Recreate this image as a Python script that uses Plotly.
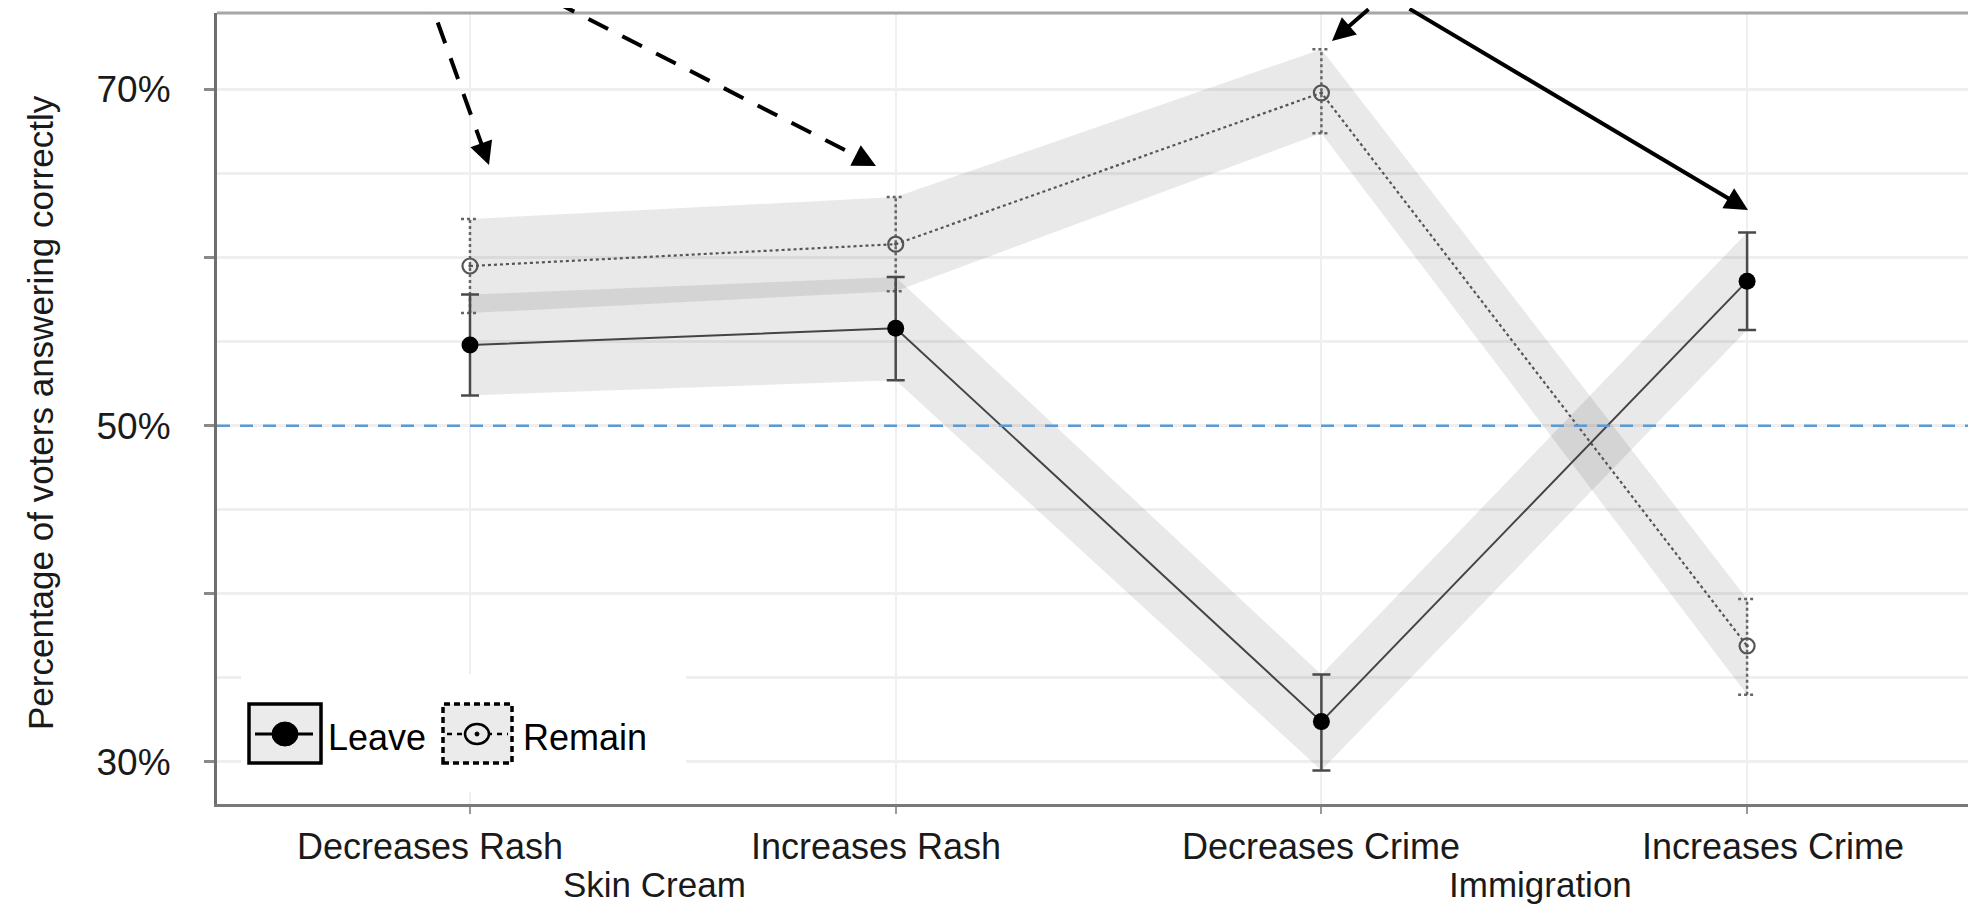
import math
import plotly.graph_objects as go

# ---------------- data ----------------
categories = ["Decreases Rash", "Increases Rash", "Decreases Crime", "Increases Crime"]
group_labels = ["Skin Cream", "Immigration"]
group_members = [[0, 1], [2, 3]]
series_names = ["Leave", "Remain"]

leave_pct = [54.8, 55.8, 32.4, 58.6]
leave_lo = [51.8, 52.7, 29.5, 55.7]
leave_hi = [57.8, 58.85, 35.2, 61.5]

remain_pct = [59.5, 60.8, 69.8, 36.9]
remain_lo = [56.7, 58.0, 67.4, 34.0]
remain_hi = [62.3, 63.6, 72.4, 39.7]

y_tick_vals = [30, 40, 50, 60, 70]
y_tick_text = ["30%", "", "50%", "", "70%"]
y_title = "Percentage of voters answering correctly"
chance_level = 50

# ---------------- layout geometry (page pixels) ----------------
PAGE_W, PAGE_H = 1976, 905
OFF = 8                      # default body margin of the html page
L, T, R, B = 217, 13, 1976, 804
PW, PH = R - L, B - T
X_RANGE = [0.4057, 4.5377]
Y_RANGE = [27.5, 74.55]


def px(x):
    return (x - L) / PW


def py(y):
    return (B - y) / PH


FONT = "Liberation Sans, Arial, sans-serif"
TXT = "#1a1a1a"
xs = list(range(1, len(categories) + 1))
cap_half = 9 / (PW / (X_RANGE[1] - X_RANGE[0]))

fig = go.Figure()

# ribbons (confidence bands)
RIB = "rgba(0,0,0,0.085)"
for lo, hi in [(leave_lo, leave_hi), (remain_lo, remain_hi)]:
    fig.add_trace(go.Scatter(
        x=xs + xs[::-1], y=hi + lo[::-1], fill="toself", fillcolor=RIB,
        mode="lines", line=dict(width=0), hoverinfo="skip", showlegend=False))

# lines
fig.add_trace(go.Scatter(x=xs, y=remain_pct, mode="lines", showlegend=False,
                         line=dict(color="#555555", width=2.2, dash="3px,3px")))
fig.add_trace(go.Scatter(x=xs, y=leave_pct, mode="lines", showlegend=False,
                         line=dict(color="#444444", width=2)))

# remain error bars (dotted)
ex, ey = [], []
for x, lo, hi in zip(xs, remain_lo, remain_hi):
    ex += [x, x, None, x - cap_half, x + cap_half, None, x - cap_half, x + cap_half, None]
    ey += [lo, hi, None, lo, lo, None, hi, hi, None]
fig.add_trace(go.Scatter(x=ex, y=ey, mode="lines", showlegend=False, hoverinfo="skip",
                         line=dict(color="#666666", width=2.5, dash="3px,3px")))

# leave markers + error bars
fig.add_trace(go.Scatter(
    x=xs, y=leave_pct, mode="markers", name=series_names[0], showlegend=False,
    marker=dict(symbol="circle", size=17, color="black"),
    error_y=dict(type="data", symmetric=False,
                 array=[h - p for h, p in zip(leave_hi, leave_pct)],
                 arrayminus=[p - l for p, l in zip(leave_pct, leave_lo)],
                 color="#4a4a4a", thickness=2.5, width=9)))

# remain markers
fig.add_trace(go.Scatter(
    x=xs, y=remain_pct, mode="markers", name=series_names[1], showlegend=False,
    marker=dict(symbol="circle-open-dot", size=15, color="#555555", line=dict(width=2.2))))

shapes = []
annotations = []

# top border
shapes.append(dict(type="line", xref="paper", yref="paper", x0=0, x1=1, y0=1, y1=1,
                   line=dict(color="#a6a6a6", width=3), layer="above"))
# chance line
shapes.append(dict(type="line", xref="paper", yref="y", x0=0, x1=1, y0=chance_level, y1=chance_level,
                   line=dict(color="#5b9bd5", width=2.5, dash="13px,10px"), layer="above"))

# ---------------- legend (drawn manually, ggplot style) ----------------
shapes.append(dict(type="rect", xref="paper", yref="paper", x0=px(241), x1=px(686), y0=py(792), y1=py(674),
                   fillcolor="white", line=dict(width=0), layer="above"))
# key 1
shapes.append(dict(type="rect", xref="paper", yref="paper", x0=px(249), x1=px(321), y0=py(763), y1=py(704),
                   fillcolor="#ebebeb", line=dict(color="black", width=3.5), layer="above"))
shapes.append(dict(type="line", xref="paper", yref="paper", x0=px(255), x1=px(313), y0=py(734), y1=py(734),
                   line=dict(color="black", width=3), layer="above"))
shapes.append(dict(type="circle", xref="paper", yref="paper", xsizemode="pixel", ysizemode="pixel",
                   xanchor=px(285), yanchor=py(734), x0=-13, x1=13, y0=-12, y1=12,
                   fillcolor="black", line=dict(color="black", width=1), layer="above"))
# key 2
shapes.append(dict(type="rect", xref="paper", yref="paper", x0=px(443), x1=px(512), y0=py(763), y1=py(704),
                   fillcolor="#ebebeb", line=dict(color="black", width=3.5, dash="6px,4px"), layer="above"))
shapes.append(dict(type="line", xref="paper", yref="paper", x0=px(447), x1=px(508), y0=py(734), y1=py(734),
                   line=dict(color="black", width=2.5, dash="5px,5px"), layer="above"))
shapes.append(dict(type="circle", xref="paper", yref="paper", xsizemode="pixel", ysizemode="pixel",
                   xanchor=px(477), yanchor=py(734), x0=-12, x1=12, y0=-10, y1=10,
                   fillcolor="#ebebeb", line=dict(color="black", width=2.5), layer="above"))
shapes.append(dict(type="circle", xref="paper", yref="paper", xsizemode="pixel", ysizemode="pixel",
                   xanchor=px(477), yanchor=py(734), x0=-2, x1=2, y0=-2, y1=2,
                   fillcolor="black", line=dict(color="black", width=1), layer="above"))
for name, xpix in zip(series_names, [326, 521]):
    annotations.append(dict(text=name, x=px(xpix), y=py(737), xref="paper", yref="paper",
                            xanchor="left", yanchor="middle", showarrow=False,
                            font=dict(family=FONT, size=36, color="black")))

# ---------------- arrows ----------------
arrows = [  # (tail_x, tail_y, tip_x, tip_y, dashed)
    (412, -49, 489, 165, True),
    (487, -33, 876, 166, True),
    (1370, -41, 1332, 41, False),
    (1408, -42, 1748, 210, False),
]
for tx, ty, hx, hy, dashed in arrows:
    dx, dy = hx - tx, hy - ty
    n = math.hypot(dx, dy)
    ux, uy = dx / n, dy / n
    if dashed:
        shapes.append(dict(type="line", xref="paper", yref="paper",
                           x0=px(tx), y0=py(ty), x1=px(hx - ux * 16), y1=py(hy - uy * 16),
                           line=dict(color="black", width=4, dash="22px,16px"), layer="above"))
        annotations.append(dict(x=px(hx), y=py(hy), xref="paper", yref="paper",
                                ax=-ux * 18, ay=-uy * 18, showarrow=True, text="",
                                arrowhead=2, arrowwidth=4, arrowsize=1.15, arrowcolor="black"))
    else:
        annotations.append(dict(x=px(hx), y=py(hy), xref="paper", yref="paper",
                                ax=tx - hx, ay=ty - hy, showarrow=True, text="",
                                arrowhead=2, arrowwidth=4, arrowsize=1.15, arrowcolor="black"))

# ---------------- axis text ----------------
cat_shift = [-40, -20, 0, 26]
for x, lab, sh in zip(xs, categories, cat_shift):
    annotations.append(dict(text=lab, x=x, xref="x", xshift=sh, y=py(846), yref="paper",
                            xanchor="center", yanchor="middle", showarrow=False,
                            font=dict(family=FONT, size=36, color=TXT)))
grp_shift = [-28, 6]
for lab, mem, sh in zip(group_labels, group_members, grp_shift):
    gx = sum(xs[i] for i in mem) / len(mem)
    annotations.append(dict(text=lab, x=gx, xref="x", xshift=sh, y=py(884), yref="paper",
                            xanchor="center", yanchor="middle", showarrow=False,
                            font=dict(family=FONT, size=35, color=TXT)))
annotations.append(dict(text=y_title, x=px(40), y=py(413), xref="paper", yref="paper",
                        textangle=-90, xanchor="center", yanchor="middle", showarrow=False,
                        font=dict(family=FONT, size=35, color=TXT)))

fig.update_layout(
    width=PAGE_W - OFF, height=PAGE_H - OFF,
    margin=dict(l=L - OFF, r=PAGE_W - R, t=T - OFF, b=PAGE_H - B, pad=0),
    paper_bgcolor="white", plot_bgcolor="white",
    showlegend=False,
    font=dict(family=FONT, color=TXT),
    shapes=shapes, annotations=annotations,
    xaxis=dict(range=X_RANGE, tickvals=xs, showticklabels=False,
               ticks="outside", ticklen=7, tickwidth=2, tickcolor="#9a9a9a",
               showgrid=True, gridcolor="#efefef", gridwidth=2,
               showline=True, linecolor="#787878", linewidth=3, zeroline=False),
    yaxis=dict(range=Y_RANGE, tickvals=y_tick_vals, ticktext=y_tick_text,
               ticks="outside", ticklen=10, tickwidth=3, tickcolor="#8a8a8a",
               tickfont=dict(family=FONT, size=37, color=TXT), ticklabelstandoff=26,
               showgrid=True, gridcolor="#efefef", gridwidth=2.5,
               minor=dict(dtick=5, tick0=0, showgrid=True, gridcolor="#efefef", gridwidth=2.5, ticks=""),
               showline=True, linecolor="#6e6e6e", linewidth=3, zeroline=False),
)

fig.write_html("out.html")
